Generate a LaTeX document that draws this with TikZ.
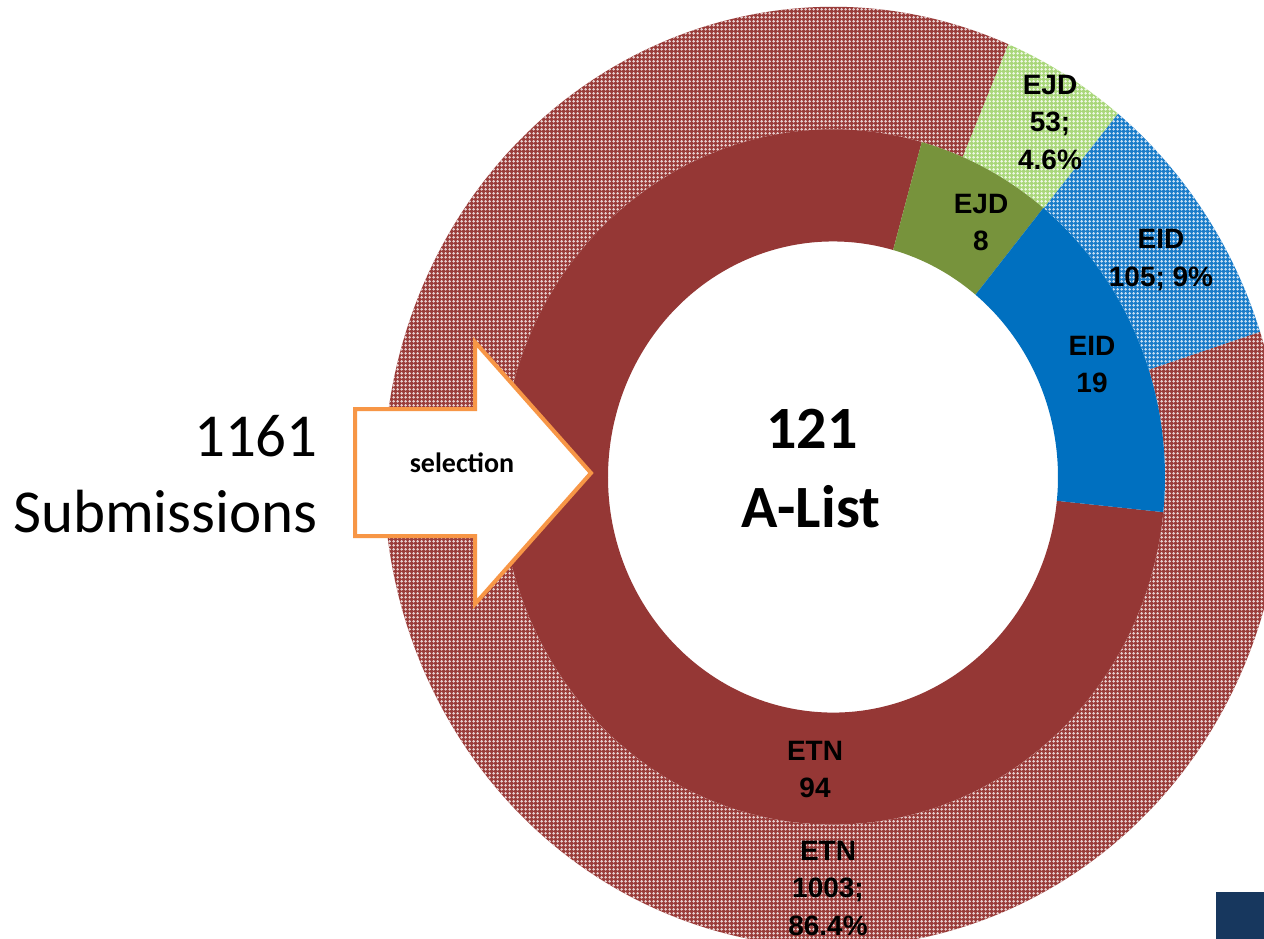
\documentclass[tikz,border=0pt]{standalone}
\usepackage{fontspec}
\setmainfont{Carlito}
\newfontfamily\arialfont{Liberation Sans}
\usetikzlibrary{patterns}
\definecolor{etnin}{HTML}{953735}
\definecolor{ejdin}{HTML}{77933C}
\definecolor{eidin}{HTML}{0070C0}
\definecolor{etnout}{HTML}{9A3C3A}
\definecolor{ejdout}{HTML}{A9D77A}
\definecolor{eidout}{HTML}{1A7CC9}
\definecolor{arroworange}{HTML}{F79646}
\definecolor{navybox}{HTML}{17375E}
\pgfdeclarepatternformonly{plusdots}{\pgfqpoint{0pt}{0pt}}{\pgfqpoint{4pt}{4pt}}{\pgfqpoint{4pt}{4pt}}{%
  \pgfpathrectangle{\pgfqpoint{1.5pt}{0.5pt}}{\pgfqpoint{1pt}{3pt}}%
  \pgfpathrectangle{\pgfqpoint{0.5pt}{1.5pt}}{\pgfqpoint{3pt}{1pt}}%
  \pgfusepath{fill}}
\newcommand\ringseg[5]{%
  \fill[#1] (#2:#4) arc[start angle=#2,end angle=#3,radius=#4]
    -- (#3:#5) arc[start angle=#3,end angle=#2,radius=#5] -- cycle;}
\begin{document}
\begin{tikzpicture}[x=1pt,y=-1pt,
  lbl/.style={font=\arialfont\bfseries\fontsize{28}{34}\selectfont, inner sep=0pt, anchor=base},
  bigtxt/.style={font=\bfseries\fontsize{60}{72}\selectfont, inner sep=0pt, anchor=base},
  subm/.style={font=\fontsize{61}{73}\selectfont, inner sep=0pt, anchor=base east},
  seltxt/.style={font=\bfseries\fontsize{28}{34}\selectfont, inner sep=0pt, anchor=base},
  selarrow/.style={draw=arroworange, fill=white, line width=4pt, line join=miter}]
\useasboundingbox (0,0) rectangle (1264,939);
\clip (0,0) rectangle (1264,939);
\fill[white] (0,0) rectangle (1264,939);
% rings
\begin{scope}[shift={(833,477)}, yscale=1.047]
  % outer ring (submissions), patterned
  \ringseg{etnout}{18}{-293}{332pt}{449pt}
  \ringseg{pattern=plusdots, pattern color=white!75!etnout}{18}{-293}{332pt}{449pt}
  \ringseg{ejdout}{67}{50.6}{332pt}{449pt}
  \ringseg{pattern=plusdots, pattern color=white!80!ejdout}{67}{50.6}{332pt}{449pt}
  \ringseg{eidout}{50.6}{18}{332pt}{449pt}
  \ringseg{pattern=plusdots, pattern color=white!75!eidout}{50.6}{18}{332pt}{449pt}
  % inner ring (A-list)
  \ringseg{etnin}{-5.8}{-285.5}{225pt}{332pt}
  \ringseg{ejdin}{74.5}{50.7}{225pt}{332pt}
  \ringseg{eidin}{50.7}{-5.8}{225pt}{332pt}
\end{scope}
% arrow
\draw[selarrow] (355,409) -- (475,409) -- (475,342) -- (591,473) -- (475,604) -- (475,536) -- (355,536) -- cycle;
\node[seltxt] (sel) at (462,472) {selection};
% left text
\node[subm] (n1161) at (318,456) {1161};
\node[subm] (nsub) at (318,532) {Submissions};
% centre text
\node[bigtxt] (c121) at (812,448) {121};
\node[bigtxt] (calist) at (811,527) {A-List};
% outer labels
\node[lbl] (oejd1) at (1050,95) {EJD};
\node[lbl] (oejd2) at (1050,132) {53;};
\node[lbl] (oejd3) at (1050,170) {4.6\%};
\node[lbl] (oeid1) at (1161,248) {EID};
\node[lbl] (oeid2) at (1161,286) {105; 9\%};
\node[lbl] (oetn1) at (828,860) {ETN};
\node[lbl] (oetn2) at (828,897) {1003;};
\node[lbl] (oetn3) at (828,935) {86.4\%};
% inner labels
\node[lbl] (iejd1) at (981,213) {EJD};
\node[lbl] (iejd2) at (981,250) {8};
\node[lbl] (ieid1) at (1092,355) {EID};
\node[lbl] (ieid2) at (1092,392) {19};
\node[lbl] (ietn1) at (815,760) {ETN};
\node[lbl] (ietn2) at (815,797) {94};
% corner box
\fill[navybox] (1216,892) rectangle (1264,939);
\end{tikzpicture}
\end{document}
